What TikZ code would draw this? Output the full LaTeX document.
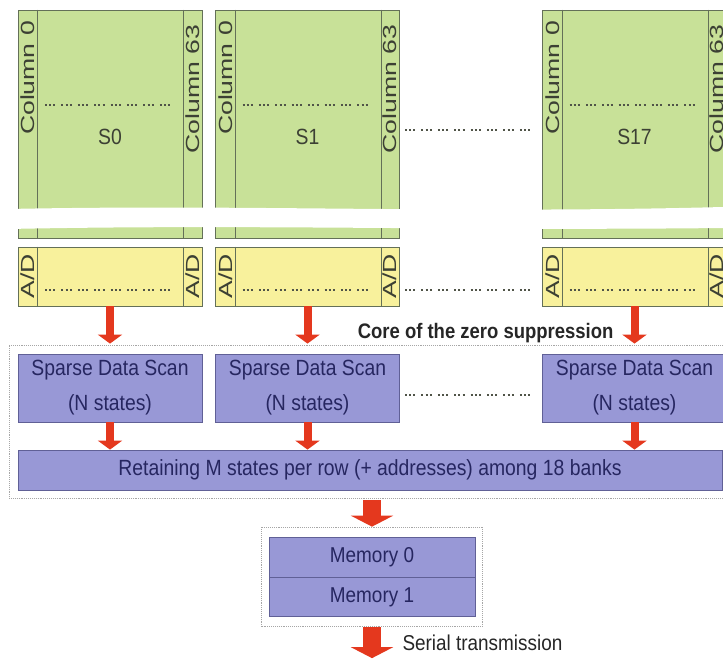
\documentclass[tikz,border=0pt]{standalone}
\usepackage{fontspec}
\setmainfont{Liberation Sans}
\newfontfamily\widefont[FakeStretch=1.4]{Liberation Sans}
\newfontfamily\narrowfont[FakeStretch=0.88]{Liberation Sans}
\usetikzlibrary{arrows.meta, positioning, fit}
\definecolor{bankgreen}{RGB}{200,225,152}
\definecolor{adcyellow}{RGB}{248,241,156}
\definecolor{scanblue}{RGB}{152,152,214}
\definecolor{scanedge}{RGB}{96,96,150}
\definecolor{navy}{RGB}{38,38,96}
\definecolor{edgegray}{RGB}{100,112,88}
\definecolor{inkgray}{RGB}{60,64,52}
\definecolor{arrowred}{RGB}{228,56,30}
\definecolor{dotgray}{RGB}{80,84,72}
\tikzset{
    bank/.style={rectangle, draw=edgegray, fill=bankgreen, minimum width=184pt, minimum height=228pt, inner sep=0pt, line width=0.8pt},
    adc/.style={rectangle, draw=edgegray, fill=adcyellow, minimum width=184pt, minimum height=59pt, inner sep=0pt, line width=0.8pt},
    strip/.style={rotate=90, font=\widefont\fontsize{19}{19}\selectfont, text=inkgray, inner sep=0pt},
    scan/.style={rectangle, draw=scanedge, fill=scanblue, text=navy, minimum width=184pt, minimum height=68pt, align=center, font=\narrowfont\fontsize{22}{35}\selectfont, line width=0.8pt},
    dashbox/.style={draw=gray!70, densely dotted, line width=0.9pt, inner sep=8.5pt},
    dotrow/.style={dotgray, line width=2.2pt, dash pattern=on 2pt off 2.2pt on 2pt off 2.2pt on 2pt off 6pt},
    redarrow/.style={arrowred, line width=8pt, -{Triangle[width=24pt, length=9pt]}},
    bigarrow/.style={arrowred, line width=18pt, -{Triangle[width=42pt, length=11pt]}}
}

\begin{document}
\begin{tikzpicture}[x=1pt, y=-1pt]
    \path [use as bounding box] (0,0) rectangle (723,659);
    \clip (0,0) rectangle (723,659);

    \node (retain) [scan, minimum width=704pt, minimum height=40pt] at (370,470) {Retaining M states per row (+ addresses) among 18 banks};

    % one bank: pixel columns, A/D strip, sparse scan
    \foreach \n/\x in {0/110, 1/307.5, 17/634.5} {
        \node (bank\n) [bank] at (\x,124) {};
        \node (adc\n) [adc] at (\x,276.5) {};
        \draw [edgegray, line width=0.8pt] ([xshift=20pt]bank\n.north west) -- ([xshift=20pt]bank\n.south west)
            ([xshift=-19pt]bank\n.north east) -- ([xshift=-19pt]bank\n.south east)
            ([xshift=20pt]adc\n.north west) -- ([xshift=20pt]adc\n.south west)
            ([xshift=-19pt]adc\n.north east) -- ([xshift=-19pt]adc\n.south east);
        \node (cl\n) [strip] at (\x-82,78) {Column 0};
        \node (cr\n) [strip] at (\x+82.5,89) {Column 63};
        \node (al\n) [strip] at (\x-82,276) {A/D};
        \node (ar\n) [strip] at (\x+82.5,276) {A/D};
        \node (lab\n) [font=\narrowfont\fontsize{22}{22}\selectfont, text=inkgray] at (\x,137) {S\n};
        \draw [dotrow] (\x-65,105) -- (\x+60,105);
        \draw [dotrow] (\x-65,290) -- (\x+60,290);
        \node (scan\n) [scan] at (\x,388) {Sparse Data Scan\\(N states)};
        \draw [redarrow, shorten >=10pt] (adc\n.south) -- (scan\n.north);
        \draw [redarrow] (scan\n.south) -- (scan\n.south |- retain.north);
    }

    % torn edge across the banks
    \fill [white] (8,209) .. controls (250,204) and (450,214) .. (723,207) -- (723,228) .. controls (450,231) and (250,224) .. (8,229) -- cycle;

    \draw [dotrow] (405,130) -- (535,130);
    \draw [dotrow] (405,290) -- (535,290);
    \draw [dotrow] (405,395) -- (535,395);

    \node (core) [dashbox, fit=(scan0)(scan17)(retain)] {};
    \node (corelabel) [anchor=base east, font=\narrowfont\bfseries\fontsize{21}{21}\selectfont, text=black!85] at (617,338) {Core of the zero suppression};

    \node (mem0) [scan, minimum width=206pt, minimum height=40pt, font=\narrowfont\fontsize{21.5}{21.5}\selectfont] at (372,557) {Memory 0};
    \node (mem1) [scan, minimum width=206pt, minimum height=39pt, font=\narrowfont\fontsize{21.5}{21.5}\selectfont, below=0pt of mem0] {Memory 1};
    \node (memframe) [dashbox, fit=(mem0)(mem1), inner xsep=7pt, inner ysep=9.5pt] {};

    \draw [bigarrow, shorten <=1pt] (core.south -| memframe.north) -- (memframe.north);
    \coordinate (sink) at ([yshift=-31pt]memframe.south);
    \draw [bigarrow] (memframe.south) -- (sink);
    \node (serial) [anchor=west, font=\narrowfont\fontsize{21.5}{21.5}\selectfont, text=black!85] at (399,643) {Serial transmission};
\end{tikzpicture}
\end{document}
